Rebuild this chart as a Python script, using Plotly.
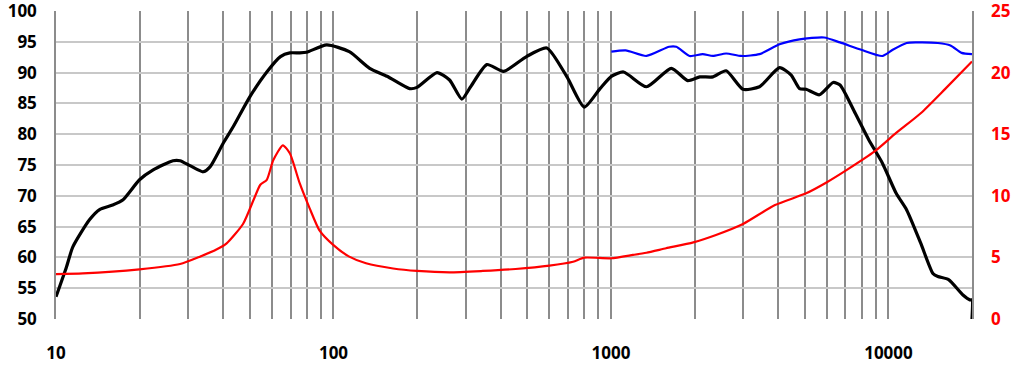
import plotly.graph_objects as go

# SPL (black), dB
spl_f = [10, 10.9, 11.5, 13.2, 14.4, 16.0, 17.4, 20, 22.4, 26.4, 28, 30.4, 33.9, 35.9, 40, 43.5, 50, 57.5,
         64.4, 69.6, 75.6, 80, 94.5, 114, 135, 156, 188, 200, 236, 262, 290, 312, 357, 410, 496, 587, 694,
         801, 913, 1003, 1110, 1342, 1650, 1890, 2090, 2330, 2600, 2990, 3430, 4050, 4460, 4780, 5050,
         5640, 6320, 6690, 7590, 8490, 9510, 10660, 11630, 13070, 14460, 15070, 16470, 18560, 19660, 20000, 20000]
spl_db = [53.6, 58.4, 61.7, 66.1, 67.8, 68.5, 69.3, 72.6, 74.2, 75.7, 75.7, 74.9, 73.9, 74.7, 78.5, 81.2, 86.1, 90.1,
          92.6, 93.2, 93.2, 93.3, 94.5, 93.4, 90.7, 89.4, 87.4, 87.6, 90.0, 88.8, 85.7, 87.7, 91.3, 90.2, 92.6, 94.0, 89.3,
          84.4, 87.4, 89.4, 90.1, 87.7, 90.7, 88.7, 89.3, 89.3, 90.3, 87.3, 87.7, 90.8, 89.6, 87.4, 87.3,
          86.4, 88.4, 88.0, 83.4, 79.1, 75.3, 70.4, 67.7, 62.3, 57.4, 56.9, 56.4, 53.9, 53.1, 53.1, 50.0]

# Off-axis SPL (blue), dB
off_f = [1003, 1130, 1342, 1620, 1720, 1920, 2140, 2330, 2600, 2950, 3430, 4050, 4780, 5860, 6690, 7980,
         9510, 10360, 11630, 12600, 15070, 16730, 18350, 20000]
off_db = [93.4, 93.6, 92.7, 94.2, 94.2, 92.7, 93.0, 92.7, 93.1, 92.7, 93.0, 94.6, 95.4, 95.7, 94.9, 93.7,
          92.7, 93.7, 94.8, 94.9, 94.8, 94.4, 93.2, 93.0]

# Impedance (red), ohm
imp_f = [10, 12.5, 20, 28, 33, 38, 41.2, 47.2, 51.5, 54.5, 57.5, 60.7, 65.7, 69.6, 75.6, 82, 89, 100, 114,
         131, 164, 200, 262, 345, 453, 600, 730, 801, 1000, 1200, 1342, 1580, 1980, 2390, 2990, 3900, 5050,
         6000, 7080, 8910, 10660, 13070, 16050, 20000]
imp_ohm = [3.65, 3.7, 4.03, 4.46, 5.06, 5.66, 6.14, 7.71, 9.66, 10.9, 11.3, 12.9, 14.1, 13.45, 11.0, 9.0, 7.2, 6.0, 5.06,
           4.52, 4.1, 3.9, 3.79, 3.9, 4.06, 4.33, 4.65, 4.98, 4.93, 5.2, 5.38, 5.74, 6.22, 6.82, 7.71, 9.25, 10.2,
           11.1, 12.1, 13.6, 15.1, 16.7, 18.7, 20.9]

x_grid = [10, 20, 30, 40, 50, 60, 70, 80, 90,
          100, 200, 300, 400, 500, 600, 700, 800, 900,
          1000, 2000, 3000, 4000, 5000, 6000, 7000, 8000, 9000,
          10000, 20000]
x_labels = ["10", "", "", "", "", "", "", "", "",
            "100", "", "", "", "", "", "", "", "",
            "1000", "", "", "", "", "", "", "", "",
            "10000", ""]
left_ticks = [50, 55, 60, 65, 70, 75, 80, 85, 90, 95, 100]
right_ticks = [0, 5, 10, 15, 20, 25]

fig = go.Figure()
fig.add_trace(go.Scatter(x=imp_f, y=imp_ohm, yaxis="y2", mode="lines",
                         line=dict(color="#ff0000", width=2.2, shape="spline", smoothing=0.6)))
fig.add_trace(go.Scatter(x=off_f, y=off_db, mode="lines",
                         line=dict(color="#0000ff", width=2.2, shape="spline", smoothing=0.6)))
fig.add_trace(go.Scatter(x=spl_f, y=spl_db, mode="lines",
                         line=dict(color="#000000", width=3.2, shape="spline", smoothing=0.6)))

tf_black = dict(family="Open Sans", size=17, color="#000000", weight="bold")
tf_red = dict(family="Open Sans", size=17, color="#ff0000", weight="bold")
fig.update_layout(
    width=1024, height=368,
    margin=dict(l=56, r=52, t=11, b=49, autoexpand=False),
    paper_bgcolor="white", plot_bgcolor="white",
    showlegend=False,
    xaxis=dict(type="log", range=[1, 4.30103], tickvals=x_grid, ticktext=x_labels,
               showgrid=True, gridcolor="#8c8c8c", gridwidth=1.5, zeroline=False,
               showline=False, ticks="", ticklabelstandoff=22, automargin=False,
               ticklabeloverflow="allow", tickfont=tf_black),
    yaxis=dict(range=[50, 100], tickvals=left_ticks, showgrid=True, gridcolor="#c8c8c8", gridwidth=2,
               zeroline=False, showline=True, mirror=True, linecolor="#8c8c8c", linewidth=1.5,
               ticks="", ticklabelstandoff=14, automargin=False, ticklabeloverflow="allow",
               tickfont=tf_black),
    yaxis2=dict(range=[0, 25], tickvals=right_ticks, overlaying="y", side="right", showgrid=False,
                zeroline=False, showline=False, ticks="", ticklabelstandoff=18, automargin=False,
                ticklabeloverflow="allow", tickfont=tf_red),
)

fig.write_html("out.html")
